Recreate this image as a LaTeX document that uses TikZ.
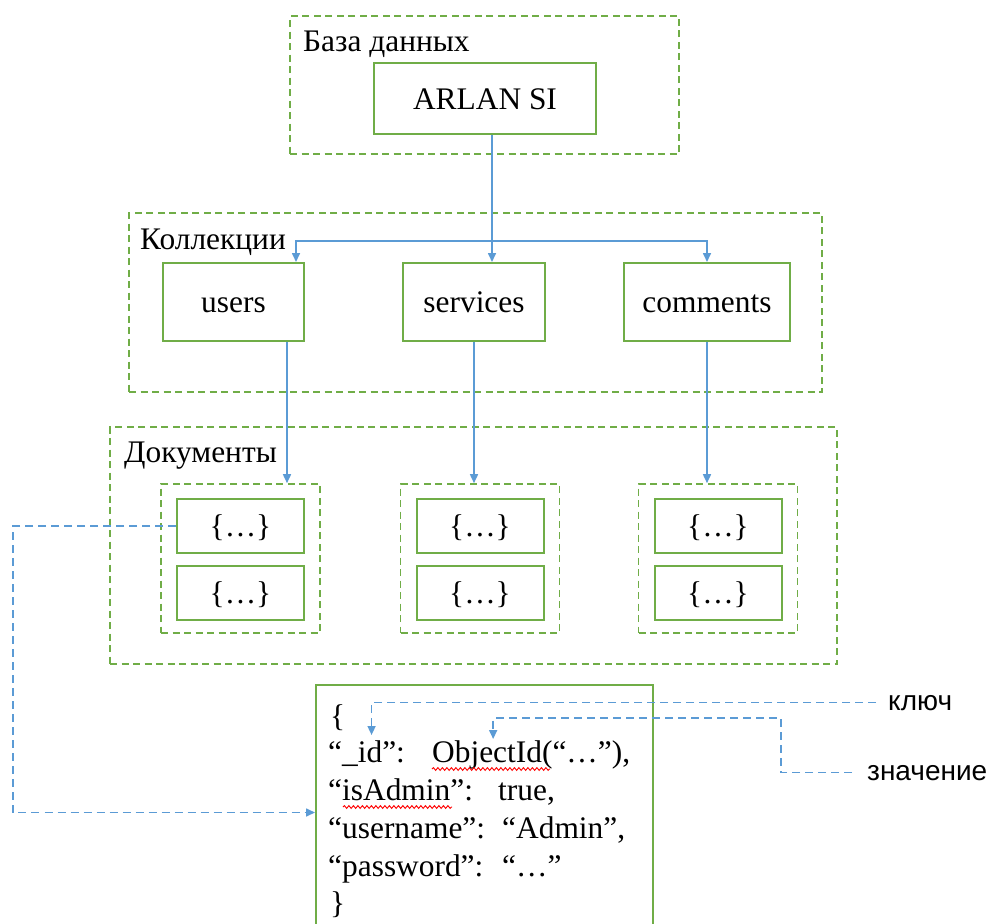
\documentclass[tikz,border=0pt]{standalone}
\usepackage{fontspec}
\setmainfont{Liberation Serif}
\newfontfamily\labelsans{Liberation Sans}
\usetikzlibrary{arrows.meta,decorations.pathmorphing}
\definecolor{boxgreen}{HTML}{70AD47}
\definecolor{linkblue}{HTML}{5B9BD5}
\tikzset{
	box/.style={draw=boxgreen, line width=2pt, inner sep=0pt, text height=21pt, text depth=0pt},
	group/.style={draw=boxgreen, line width=1.6pt, dash pattern=on 7pt off 4.5pt, inner sep=0pt},
	link/.style={draw=linkblue, line width=1.6pt, -{Triangle[length=9pt,width=8pt]}},
	dlink/.style={link, dash pattern=on 8pt off 5pt},
	txt/.style={inner sep=0pt, anchor=base west},
	side/.style={txt, font=\labelsans\fontsize{28pt}{34pt}\selectfont},
	squiggle/.style={draw=red, line width=0.9pt, decorate, decoration={snake, amplitude=1.4pt, segment length=4.5pt}}
}

\begin{document}
\begin{tikzpicture}[x=1pt, y=-1pt, font=\fontsize{31.4pt}{38pt}\selectfont]
		\useasboundingbox (0,0) rectangle (989,924);
		\clip (0,0) rectangle (989,924);

		\node[group, minimum width=389pt, minimum height=138pt] (dbgrp) at (484.5,85) {};
		\node[txt] (dblbl) at (303,51) {База данных};
		\node[box, minimum width=222pt, minimum height=71pt] (arlan) at (485,98.5) {ARLAN SI};

		\node[group, minimum width=693pt, minimum height=179pt] (colgrp) at (475.5,302.5) {};
		\node[txt] (collbl) at (140,249) {Коллекции};
		\node[box, minimum width=141pt, minimum height=78pt] (users) at (233.5,302) {users};
		\node[box, minimum width=142pt, minimum height=78pt] (services) at (474,302) {services};
		\node[box, minimum width=166pt, minimum height=78pt] (comments) at (707,302) {comments};

		\node[group, minimum width=727pt, minimum height=237pt] (docgrp) at (473.5,545.5) {};
		\node[txt] (doclbl) at (124,462) {Документы};
		\foreach \n/\x in {1/240.5, 2/480, 3/718}{
			\node[group, minimum width=159pt, minimum height=149pt] (g\n) at (\x,558.5) {};
			\node[box, minimum width=127pt, minimum height=54pt] (d\n-a) at (\x,526) {\{…\}};
			\node[box, minimum width=127pt, minimum height=54pt] (d\n-b) at (\x,593) {\{…\}};
		}

		\node[box, minimum width=337pt, minimum height=255pt] (json) at (484.5,812.5) {};
		\node[txt] (jopen) at (330,726) {\{};
		\node[txt] (k1) at (328,762) {“\_id”:};
		\node[txt] (v1) at (432,762) {ObjectId(“…”),};
		\node[txt] (k2) at (328,800) {“isAdmin”:};
		\node[txt] (v2) at (498,800) {true,};
		\node[txt] (k3) at (328,838) {“username”:};
		\node[txt] (v3) at (502,838) {“Admin”,};
		\node[txt] (k4) at (328,876) {“password”:};
		\node[txt] (v4) at (502,876) {“…”};
		\node[txt] (jclose) at (330,913) {\}};
		\draw[squiggle] ([yshift=-7pt]v1.base west) -- ++(118,0);
		\draw[squiggle] ([xshift=15pt,yshift=-7pt]k2.base west) -- ++(109,0);

		\node[side] (klyuch) at (888,710) {ключ};
		\node[side] (znach) at (867,780) {значение};

		\draw[link] ([xshift=7pt]arlan.south) coordinate (a) -- (a |- services.north);
		\coordinate (fork) at (492,241);
		\draw[link] (fork) -| ([xshift=62.5pt]users.north);
		\draw[link] (fork) -| (comments.north);
		\draw[link] ([xshift=53.5pt]users.south) coordinate (u) -- (u |- g1.north);
		\draw[link] (services.south) -- (services.south |- g2.north);
		\draw[link] (comments.south) -- (comments.south |- g3.north);

		\coordinate (bend) at (13,0);
		\draw[dlink] (d1-a.west) -- (d1-a.west -| bend) |- (json.west);
		\coordinate (zturn) at (781,718);
		\draw[dlink] ([xshift=-12pt]klyuch.west) -| ([xshift=5pt,yshift=5pt]k1.north);
		\draw[dlink] ([xshift=-15pt]znach.west) -| (zturn) -| ([xshift=-38pt,yshift=1pt]v1.north);
	\end{tikzpicture}
\end{document}
